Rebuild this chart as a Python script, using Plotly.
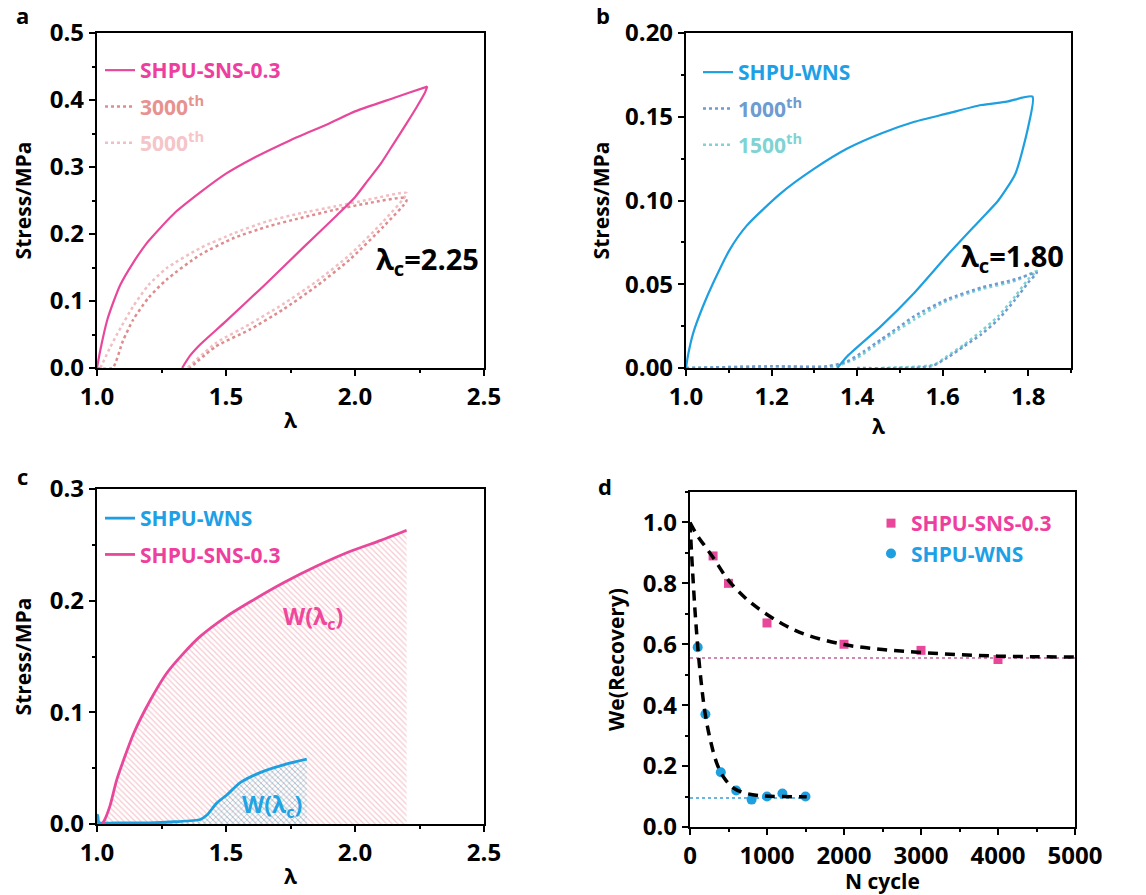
import plotly.graph_objects as go

FONT = "Open Sans"

# ---------------- Panel a data ----------------
a_main_load_x = [1.0, 1.013, 1.04, 1.065, 1.09, 1.14, 1.19, 1.21, 1.3, 1.4, 1.5, 1.6, 1.75, 1.9, 2.0, 2.15, 2.28]
a_main_load_y = [0, 0.027, 0.072, 0.10, 0.124, 0.157, 0.185, 0.194, 0.231, 0.262, 0.29, 0.312, 0.34, 0.365, 0.383, 0.403, 0.42]
a_main_unload_x = [2.28, 2.27, 2.24, 2.2, 2.15, 2.1, 2.05, 2.0, 1.93, 1.8, 1.65, 1.5, 1.4, 1.36, 1.33]
a_main_unload_y = [0.42, 0.41, 0.39, 0.365, 0.335, 0.305, 0.28, 0.255, 0.228, 0.18, 0.124, 0.07, 0.035, 0.018, 0.0]

a_3000_x = [1.0, 1.06, 1.1, 1.14, 1.2, 1.27, 1.4, 1.53, 1.66, 1.79, 1.92, 2.05, 2.19, 2.2,
            2.11, 1.98, 1.85, 1.72, 1.59, 1.46, 1.36]
a_3000_y = [0, 0, 0.04, 0.072, 0.105, 0.132, 0.169, 0.194, 0.211, 0.224, 0.236, 0.246, 0.254, 0.25,
            0.211, 0.162, 0.122, 0.087, 0.057, 0.032, 0.0]

a_5000_x = [1.013, 1.05, 1.08, 1.14, 1.2, 1.27, 1.4, 1.53, 1.66, 1.79, 1.92, 2.05, 2.2,
            2.11, 1.98, 1.85, 1.72, 1.59, 1.46, 1.35]
a_5000_y = [0, 0.03, 0.052, 0.092, 0.124, 0.149, 0.179, 0.201, 0.219, 0.231, 0.241, 0.251, 0.261,
            0.219, 0.169, 0.129, 0.095, 0.065, 0.037, 0.0]

# ---------------- Panel b data ----------------
b_main_x = [1.0, 1.005, 1.017, 1.04, 1.064, 1.103, 1.142, 1.22, 1.30, 1.377, 1.456, 1.534, 1.612, 1.69, 1.75, 1.81,
            1.80, 1.77, 1.73, 1.69, 1.61, 1.534, 1.456, 1.377, 1.354]
b_main_y = [0, 0.008, 0.021, 0.037, 0.051, 0.071, 0.085, 0.104, 0.119, 0.131, 0.140, 0.147, 0.152, 0.157, 0.159, 0.162,
            0.144, 0.116, 0.100, 0.089, 0.067, 0.045, 0.025, 0.007, 0.0]

b_1000_x = [1.0, 1.2, 1.33, 1.377, 1.416, 1.456, 1.495, 1.534, 1.61, 1.69, 1.77, 1.82,
            1.80, 1.77, 1.73, 1.69, 1.65, 1.61, 1.573, 1.4]
b_1000_y = [0, 0.001, 0.001, 0.004, 0.01, 0.017, 0.024, 0.031, 0.041, 0.048, 0.053, 0.057,
            0.051, 0.041, 0.029, 0.020, 0.013, 0.006, 0.001, 0.0]

b_1500_x = [1.0, 1.2, 1.35, 1.40, 1.44, 1.48, 1.534, 1.61, 1.69, 1.77, 1.82,
            1.80, 1.77, 1.73, 1.69, 1.65, 1.61, 1.58, 1.45]
b_1500_y = [0, 0.001, 0.001, 0.006, 0.013, 0.020, 0.029, 0.040, 0.047, 0.052, 0.058,
            0.053, 0.043, 0.031, 0.022, 0.014, 0.007, 0.002, 0.0]

# ---------------- Panel c data ----------------
c_sns_x = [1.02, 1.026, 1.05, 1.077, 1.142, 1.207, 1.27, 1.336, 1.40, 1.503, 1.594, 1.723, 1.852, 1.98, 2.10, 2.20]
c_sns_y = [0, 0.002, 0.016, 0.040, 0.081, 0.111, 0.135, 0.153, 0.168, 0.186, 0.199, 0.216, 0.231, 0.244, 0.254, 0.263]
c_wns_x = [1.0, 1.003, 1.006, 1.01, 1.1, 1.2, 1.3, 1.4, 1.426, 1.465, 1.503, 1.555, 1.632, 1.723, 1.813]
c_wns_y = [0.0, 0.008, 0.002, 0.001, 0.001, 0.001, 0.002, 0.004, 0.008, 0.019, 0.026, 0.037, 0.046, 0.053, 0.058]

# ---------------- Panel d data ----------------
d_sns_n = [300, 500, 1000, 2000, 3000, 4000]
d_sns_w = [0.89, 0.80, 0.67, 0.60, 0.58, 0.55]
d_wns_n = [100, 200, 400, 600, 800, 1000, 1200, 1500]
d_wns_w = [0.59, 0.37, 0.18, 0.12, 0.09, 0.10, 0.11, 0.10]

d_sns_fit_n = [0, 100, 200, 300, 500, 750, 1000, 1250, 1500, 2000, 2500, 3000, 3500, 4000, 4500, 5000]
d_sns_fit_w = [1.0, 0.955, 0.92, 0.885, 0.81, 0.745, 0.698, 0.66, 0.632, 0.599, 0.583, 0.573, 0.566, 0.561, 0.559, 0.558]
d_wns_fit_n = [0, 20, 43, 65, 87, 108, 152, 195, 260, 347, 433, 563, 737, 953, 1200, 1516]
d_wns_fit_w = [1.0, 0.9, 0.80, 0.71, 0.635, 0.57, 0.46, 0.375, 0.29, 0.21, 0.165, 0.128, 0.11, 0.102, 0.1, 0.099]

d_sns_asym_n = [0, 5000]
d_sns_asym_w = [0.555, 0.555]
d_wns_asym_n = [0, 1500]
d_wns_asym_w = [0.095, 0.095]

# ---------------- colours ----------------
PINK = "#E8489A"
PINK_TXT = "#EE3F9E"
SAL = "#DE8C8E"
SAL_TXT = "#E8928F"
LPINK = "#F0BEC3"
LPINK_TXT = "#F5C5C8"
BLUE = "#1E9FE0"
BLUE_TXT = "#1EA0E6"
B1000 = "#6E9BD0"
B1500 = "#7FD3D3"


def span(t, c):
    return f'<span style="color:{c}">{t}</span>'


fig = go.Figure()

# Panel a
fig.add_trace(go.Scatter(x=a_5000_x, y=a_5000_y, mode="lines", line=dict(color=LPINK, width=2.5, dash="dot", shape="spline", smoothing=0.6),
                         name=span("5000<sup>th</sup>", LPINK_TXT), xaxis="x", yaxis="y", legend="legend",
                         legendgroup="a3", legendrank=3))
fig.add_trace(go.Scatter(x=a_3000_x, y=a_3000_y, mode="lines", line=dict(color=SAL, width=2.5, dash="dot", shape="spline", smoothing=0.6),
                         name=span("3000<sup>th</sup>", SAL_TXT), xaxis="x", yaxis="y", legend="legend",
                         legendgroup="a2", legendrank=2))
fig.add_trace(go.Scatter(x=a_main_load_x + a_main_unload_x, y=a_main_load_y + a_main_unload_y, mode="lines",
                         line=dict(color=PINK, width=2.2, shape="spline", smoothing=0.6), name=span("SHPU-SNS-0.3", PINK_TXT),
                         xaxis="x", yaxis="y", legend="legend", legendgroup="a1", legendrank=1))

# Panel b
fig.add_trace(go.Scatter(x=b_1500_x, y=b_1500_y, mode="lines", line=dict(color=B1500, width=2.5, dash="dot", shape="spline", smoothing=0.6),
                         name=span("1500<sup>th</sup>", B1500), xaxis="x2", yaxis="y2", legend="legend2",
                         legendgroup="b3", legendrank=3))
fig.add_trace(go.Scatter(x=b_1000_x, y=b_1000_y, mode="lines", line=dict(color=B1000, width=2.5, dash="dot", shape="spline", smoothing=0.6),
                         name=span("1000<sup>th</sup>", B1000), xaxis="x2", yaxis="y2", legend="legend2",
                         legendgroup="b2", legendrank=2))
fig.add_trace(go.Scatter(x=b_main_x, y=b_main_y, mode="lines", line=dict(color=BLUE, width=2.2, shape="spline", smoothing=0.6),
                         name=span("SHPU-WNS", BLUE_TXT), xaxis="x2", yaxis="y2", legend="legend2",
                         legendgroup="b1", legendrank=1))

# Panel c fills
fig.add_trace(go.Scatter(x=c_sns_x, y=c_sns_y, mode="none", fill="tozeroy", showlegend=False,
                         line=dict(shape="spline", smoothing=0.6),
                         fillpattern=dict(shape="\\", fgcolor="rgba(228,110,130,0.75)", bgcolor="rgba(255,255,255,0)",
                                          size=4, solidity=0.3),
                         xaxis="x3", yaxis="y3", hoverinfo="skip"))
fig.add_trace(go.Scatter(x=c_wns_x, y=c_wns_y, mode="none", fill="tozeroy", showlegend=False,
                         line=dict(shape="spline", smoothing=0.6),
                         fillpattern=dict(shape="x", fgcolor="rgba(60,175,200,0.9)", bgcolor="rgba(255,255,255,0)",
                                          size=4, solidity=0.35),
                         xaxis="x3", yaxis="y3", hoverinfo="skip"))
fig.add_trace(go.Scatter(x=c_wns_x, y=c_wns_y, mode="lines", line=dict(color=BLUE, width=2.8, shape="spline", smoothing=0.6),
                         name=span("SHPU-WNS", BLUE_TXT), xaxis="x3", yaxis="y3", legend="legend3",
                         legendgroup="c1", legendrank=1))
fig.add_trace(go.Scatter(x=c_sns_x, y=c_sns_y, mode="lines", line=dict(color=PINK, width=2.8, shape="spline", smoothing=0.6),
                         name=span("SHPU-SNS-0.3", PINK_TXT), xaxis="x3", yaxis="y3", legend="legend3",
                         legendgroup="c2", legendrank=2))

# Panel d
fig.add_trace(go.Scatter(x=d_sns_asym_n, y=d_sns_asym_w, mode="lines", line=dict(color="#C0609A", width=1.5, dash="dot"),
                         showlegend=False, xaxis="x4", yaxis="y4"))
fig.add_trace(go.Scatter(x=d_wns_asym_n, y=d_wns_asym_w, mode="lines", line=dict(color="#3A9ADA", width=1.5, dash="dot"),
                         showlegend=False, xaxis="x4", yaxis="y4"))
fig.add_trace(go.Scatter(x=d_sns_n, y=d_sns_w, mode="markers", marker=dict(symbol="square", size=9, color=PINK),
                         name=span("SHPU-SNS-0.3", PINK_TXT), xaxis="x4", yaxis="y4", legend="legend4",
                         legendgroup="d1", legendrank=1, cliponaxis=False))
fig.add_trace(go.Scatter(x=d_wns_n, y=d_wns_w, mode="markers", marker=dict(symbol="circle", size=10, color=BLUE),
                         name=span("SHPU-WNS", BLUE_TXT), xaxis="x4", yaxis="y4", legend="legend4",
                         legendgroup="d2", legendrank=2, cliponaxis=False))
fig.add_trace(go.Scatter(x=d_sns_fit_n, y=d_sns_fit_w, mode="lines", line=dict(color="black", width=3.5, dash="10px,7px", shape="spline"),
                         showlegend=False, xaxis="x4", yaxis="y4"))
fig.add_trace(go.Scatter(x=d_wns_fit_n, y=d_wns_fit_w, mode="lines", line=dict(color="black", width=3.5, dash="10px,7px", shape="spline"),
                         showlegend=False, xaxis="x4", yaxis="y4"))

W = 1146
H = 895


def xd(l, r):
    return [l / W, r / W]


def yd(t, b):
    return [1 - b / H, 1 - t / H]


tickfont = dict(family=FONT, size=24, color="black", weight=700)
titlefont = dict(family=FONT, size=21, color="black", weight=700)


def axis(domain, rng, dtick, minor, anchor, title, fmt, standoff):
    return dict(domain=domain, range=rng, dtick=dtick, tick0=0, tickformat=fmt, automargin=False,
                showline=True, linewidth=2.2, linecolor="black", mirror=True,
                ticks="outside", ticklen=6, tickwidth=2, tickcolor="black",
                minor=dict(dtick=minor, tick0=0, ticks="outside", ticklen=3, tickwidth=1.5, tickcolor="black"),
                showgrid=False, zeroline=False, tickfont=tickfont, anchor=anchor,
                title=dict(text=title, font=titlefont, standoff=standoff))


def legend(x, y, gap):
    return dict(x=x / W, y=1 - y / H, xanchor="left", yanchor="top", bgcolor="rgba(0,0,0,0)",
                font=dict(family=FONT, size=21, weight=700), traceorder="grouped", tracegroupgap=gap,
                itemwidth=30)


fig.update_layout(
    width=W, height=H, margin=dict(l=0, r=0, t=0, b=0),
    paper_bgcolor="white", plot_bgcolor="white",
    xaxis=axis(xd(97, 484), [1.0, 2.5], 0.5, 0.25, "y", "λ", ".1f", 2),
    yaxis=axis(yd(33, 368), [0, 0.5], 0.1, 0.05, "x", "Stress/MPa", ".1f", 12),
    xaxis2=axis(xd(686, 1071), [1.0, 1.9], 0.2, 0.1, "y2", "λ", ".1f", 2),
    yaxis2=axis(yd(33, 368), [0, 0.2], 0.05, 0.025, "x2", "Stress/MPa", ".2f", 10),
    xaxis3=axis(xd(97, 484), [1.0, 2.5], 0.5, 0.25, "y3", "λ", ".1f", 2),
    yaxis3=axis(yd(489, 824), [0, 0.3], 0.1, 0.05, "x3", "Stress/MPa", ".1f", 12),
    xaxis4=axis(xd(690, 1075), [0, 5000], 1000, 500, "y4", "N cycle", "d", 2),
    yaxis4=axis(yd(492, 827), [0, 1.1], 0.2, 0.1, "x4", "We(Recovery)", ".1f", 12),
    legend=legend(100, 50, 6),
    legend2=legend(698, 52, 6),
    legend3=legend(100, 498, 6),
    legend4=legend(871, 503, 0),
    showlegend=True,
)

ann_font = dict(family=FONT, size=29, color="black", weight=700)
fig.add_annotation(text="λ<sub>c</sub>=2.25", x=2.28, y=0.16, xref="x", yref="y", showarrow=False, font=ann_font)
fig.add_annotation(text="λ<sub>c</sub>=1.80", x=1.763, y=0.066, xref="x2", yref="y2", showarrow=False, font=ann_font)
fig.add_annotation(text="W(λ<sub>c</sub>)", x=1.837, y=0.185, xref="x3", yref="y3", showarrow=False,
                   font=dict(family=FONT, size=23, color="#F0479B", weight=700))
fig.add_annotation(text="W(λ<sub>c</sub>)", x=1.678, y=0.017, xref="x3", yref="y3", showarrow=False,
                   font=dict(family=FONT, size=23, color="#20A4E3", weight=700))

lab_font = dict(family=FONT, size=22, color="black", weight=700)
for t, px, py in [("a", 22, 15), ("b", 603, 15), ("c", 22, 476), ("d", 605, 486)]:
    fig.add_annotation(text=t, x=px / W, y=1 - py / H, xref="paper", yref="paper", showarrow=False,
                       font=lab_font, xanchor="center", yanchor="middle")

fig.write_html("out.html")
